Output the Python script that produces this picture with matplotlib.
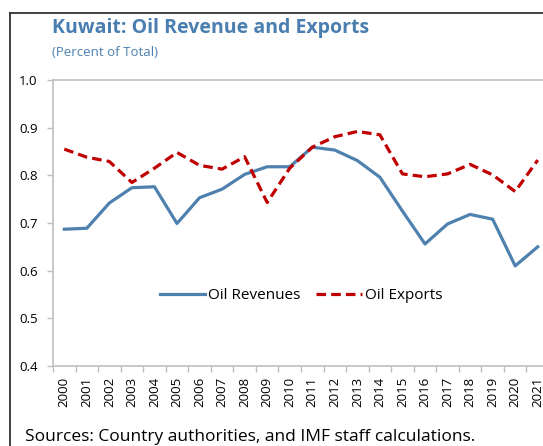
import numpy as np
import matplotlib
matplotlib.use("Agg")
import matplotlib.pyplot as plt
from matplotlib.lines import Line2D

plt.rcParams['font.family'] = ['Open Sans', 'DejaVu Sans']

years = [str(y) for y in range(2000, 2022)]
oil_revenues = [0.687, 0.689, 0.742, 0.774, 0.776, 0.699, 0.753, 0.771, 0.802, 0.818, 0.818,
                0.859, 0.853, 0.831, 0.796, 0.725, 0.656, 0.698, 0.718, 0.708, 0.610, 0.650]
oil_exports = [0.855, 0.838, 0.829, 0.785, 0.815, 0.848, 0.821, 0.813, 0.839, 0.743, 0.815,
               0.859, 0.881, 0.892, 0.885, 0.803, 0.797, 0.803, 0.823, 0.801, 0.766, 0.832]

blue = "#4F81AF"
red = "#C00000"
grey = "#BFBFBF"

fig = plt.figure(figsize=(5.43, 4.46), dpi=100)
ax = fig.add_axes([53 / 543, 1 - 366 / 446, 496 / 543, 286 / 446])

x = np.arange(len(years))
ax.plot(x, oil_revenues, color=blue, lw=2.3, label="Oil Revenues")
ax.plot(x, oil_exports, color=red, lw=2.3, ls=(0, (3, 1.6)), label="Oil Exports")

ax.set_xlim(-0.5, len(years) - 0.5)
ax.set_ylim(0.4, 1.0)
ax.set_yticks(np.arange(0.4, 1.01, 0.1))
ax.set_yticklabels([f"{v:.1f}" for v in np.arange(0.4, 1.01, 0.1)])
ax.set_xticks(x)
ax.set_xticklabels(years, rotation=90)
ax.set_xticks(np.arange(-0.5, len(years), 1), minor=True)
ax.tick_params(axis="x", which="major", length=0, pad=8, labelsize=9.5)
ax.tick_params(axis="x", which="minor", length=4, color=grey, width=1)
ax.tick_params(axis="y", length=4, color=grey, width=1, labelsize=9.5, pad=7)

for side in ["left", "bottom", "top"]:
    ax.spines[side].set_color(grey)
    ax.spines[side].set_linewidth(1.2)
ax.spines["right"].set_visible(False)

ax.legend(loc="center", bbox_to_anchor=(0.5, 0.247), ncol=2, frameon=False,
          fontsize=11, handlelength=3.0, handletextpad=0.2, columnspacing=1.0)

fig.text(52 / 543, 1 - 28 / 446, "Kuwait: Oil Revenue and Exports", color="#4A7EB0",
         fontsize=14, fontweight="bold", va="center")
fig.text(52 / 543, 1 - 52 / 446, "(Percent of Total)", color="#4A7EB0",
         fontsize=9.5, va="center")
fig.text(25 / 543, 1 - 437 / 446, "Sources: Country authorities, and IMF staff calculations.",
         fontsize=12.5, va="center")

fig.add_artist(Line2D([10 / 543, 10 / 543], [0, 1 - 13 / 446], transform=fig.transFigure,
                      color="#333333", lw=1.3))
fig.add_artist(Line2D([10 / 543, 1], [1 - 13 / 446, 1 - 13 / 446], transform=fig.transFigure,
                      color="#333333", lw=1.3))

fig.savefig("out.png", dpi=100)
